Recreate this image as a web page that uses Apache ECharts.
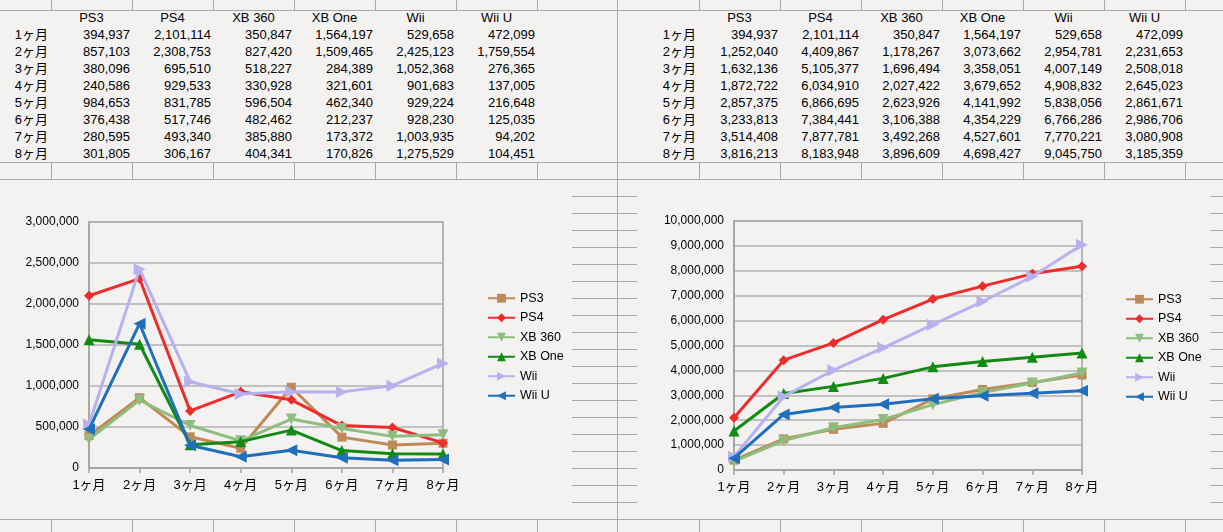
<!DOCTYPE html>
<html>
<head>
<meta charset="utf-8">
<script src="https://cdn.jsdelivr.net/npm/echarts@6/dist/echarts.min.js"></script>
<style>
  html, body { margin: 0; padding: 0; }
  body { width: 1223px; height: 532px; background: #f3f2f1; position: relative; overflow: hidden;
         font-family: 'Liberation Sans', Arial, 'Noto Sans CJK JP', sans-serif; }
  .hl, .vl { position: absolute; background: #a8a8a8; }
  .hl { height: 1px; }
  .vl { width: 1px; }
  .cell { position: absolute; height: 17px; line-height: 17px; font-size: 13px; color: #000; white-space: nowrap; }
  #chart { position: absolute; left: 0; top: 0; width: 1223px; height: 532px; }
</style>
</head>
<body>
<div id="bg"></div>
<div id="tables"></div>
<div id="chart"></div>
<script>
// ---------- data ----------
const months = ['1ヶ月', '2ヶ月', '3ヶ月', '4ヶ月', '5ヶ月', '6ヶ月', '7ヶ月', '8ヶ月'];
const platforms = ['PS3', 'PS4', 'XB 360', 'XB One', 'Wii', 'Wii U'];

// monthly sales
const ps3Monthly   = [394937, 857103, 380096, 240586, 984653, 376438, 280595, 301805];
const ps4Monthly   = [2101114, 2308753, 695510, 929533, 831785, 517746, 493340, 306167];
const xb360Monthly = [350847, 827420, 518227, 330928, 596504, 482462, 385880, 404341];
const xbOneMonthly = [1564197, 1509465, 284389, 321601, 462340, 212237, 173372, 170826];
const wiiMonthly   = [529658, 2425123, 1052368, 901683, 929224, 928230, 1003935, 1275529];
const wiiUMonthly  = [472099, 1759554, 276365, 137005, 216648, 125035, 94202, 104451];

// cumulative sales
const ps3Cum   = [394937, 1252040, 1632136, 1872722, 2857375, 3233813, 3514408, 3816213];
const ps4Cum   = [2101114, 4409867, 5105377, 6034910, 6866695, 7384441, 7877781, 8183948];
const xb360Cum = [350847, 1178267, 1696494, 2027422, 2623926, 3106388, 3492268, 3896609];
const xbOneCum = [1564197, 3073662, 3358051, 3679652, 4141992, 4354229, 4527601, 4698427];
const wiiCum   = [529658, 2954781, 4007149, 4908832, 5838056, 6766286, 7770221, 9045750];
const wiiUCum  = [472099, 2231653, 2508018, 2645023, 2861671, 2986706, 3080908, 3185359];

const leftYTicks  = [0, 500000, 1000000, 1500000, 2000000, 2500000, 3000000];
const rightYTicks = [0, 1000000, 2000000, 3000000, 4000000, 5000000, 6000000, 7000000, 8000000, 9000000, 10000000];

const monthlySets = [ps3Monthly, ps4Monthly, xb360Monthly, xbOneMonthly, wiiMonthly, wiiUMonthly];
const cumSets = [ps3Cum, ps4Cum, xb360Cum, xbOneCum, wiiCum, wiiUCum];

// ---------- spreadsheet background ----------
const bg = document.getElementById('bg');
function hl(x1, x2, y) { const d = document.createElement('div'); d.className = 'hl';
  d.style.left = x1 + 'px'; d.style.width = (x2 - x1) + 'px'; d.style.top = y + 'px'; bg.appendChild(d); }
function vl(x, y1, y2) { const d = document.createElement('div'); d.className = 'vl';
  d.style.left = x + 'px'; d.style.top = y1 + 'px'; d.style.height = (y2 - y1) + 'px'; bg.appendChild(d); }
const leftCols = [51, 132, 213, 294, 375, 456, 537];
const rightCols = [699, 780, 861, 942, 1023, 1104, 1185];
[10, 162, 179, 519].forEach(y => hl(0, 1223, y));
vl(617, 0, 532);
leftCols.concat(rightCols).forEach(x => { vl(x, 0, 10); vl(x, 162, 179); vl(x, 519, 532); });
for (let y = 196; y <= 502; y += 17) { hl(572, 637, y); hl(1210, 1223, y); }

// ---------- tables ----------
const tables = document.getElementById('tables');
function cell(text, left, width, top, align, pad) {
  const d = document.createElement('div'); d.className = 'cell';
  d.textContent = text; d.style.left = left + 'px'; d.style.width = (width - pad) + 'px';
  d.style.top = top + 'px'; d.style.textAlign = align; tables.appendChild(d);
}
const fmt = v => v.toLocaleString('en-US');
function drawTable(labelLeft, labelW, cols, sets) {
  platforms.forEach((p, j) => cell(p, cols[j], 81, 9, 'center', 0));
  months.forEach((m, i) => {
    const top = 26 + 17 * i;
    cell(m, labelLeft, labelW, top, 'right', 3);
    sets.forEach((s, j) => cell(fmt(s[i]), cols[j], 81, top, 'right', 2));
  });
}
drawTable(0, 51, [51, 132, 213, 294, 375, 456], monthlySets);
drawTable(617, 82, [699, 780, 861, 942, 1023, 1104], cumSets);

// ---------- charts ----------
const colors = ['#bd8a58', '#ee2c2c', '#8fbd7e', '#138a13', '#b7b2ee', '#1f6fbd'];
const symbols = ['rect', 'diamond', 'triangle', 'triangle', 'triangle', 'triangle'];
const rotates = [0, 0, 180, 0, -90, 90];
const sizes = [9, 10, 11, 11, 12, 12];
const font = "'Liberation Sans', Arial, 'Noto Sans CJK JP', sans-serif";

function makeSeries(sets, idx) {
  return sets.map((s, j) => ({
    name: platforms[j], type: 'line', data: s, xAxisIndex: idx, yAxisIndex: idx,
    symbol: symbols[j], symbolRotate: rotates[j], symbolSize: sizes[j], showSymbol: true,
    lineStyle: { width: 3, color: colors[j] }, itemStyle: { color: colors[j] },
    emphasis: { disabled: true }, z: 3 + j
  }));
}
function xAxis(idx) {
  return {
    type: 'category', gridIndex: idx, data: months, boundaryGap: false,
    axisLine: { lineStyle: { color: '#a3a3a3', width: 1.5 } },
    axisTick: { show: true, alignWithLabel: true, length: 5, lineStyle: { color: '#a3a3a3', width: 1.5 } },
    axisLabel: { color: '#000', fontSize: 13, fontFamily: font, margin: 11 },
    splitLine: { show: false }
  };
}
function yAxis(idx, ticks) {
  return {
    type: 'value', gridIndex: idx, min: ticks[0], max: ticks[ticks.length - 1], interval: ticks[1] - ticks[0],
    axisLine: { show: true, lineStyle: { color: '#a3a3a3', width: 1.5 } },
    axisTick: { show: false },
    axisLabel: { color: '#000', fontSize: 12, fontFamily: font, margin: 10, formatter: v => fmt(v) },
    splitLine: { show: true, lineStyle: { color: '#b0b0b0', width: 1.5 } }
  };
}
function legend(left, top) {
  return {
    orient: 'vertical', left: left, top: top, padding: 0, itemWidth: 27, itemHeight: 11, itemGap: 7,
    data: platforms, textStyle: { color: '#000', fontSize: 12.5, fontFamily: font },
    selectedMode: false
  };
}

const chart = echarts.init(document.getElementById('chart'), null, { renderer: 'canvas' });
chart.setOption({
  animation: false,
  backgroundColor: 'transparent',
  grid: [
    { left: 89, top: 222, width: 354, height: 246, show: true, borderColor: '#a3a3a3', borderWidth: 1.5, backgroundColor: 'transparent' },
    { left: 734, top: 221, width: 348, height: 249, show: true, borderColor: '#a3a3a3', borderWidth: 1.5, backgroundColor: 'transparent' }
  ],
  xAxis: [xAxis(0), xAxis(1)],
  yAxis: [yAxis(0, leftYTicks), yAxis(1, rightYTicks)],
  legend: [legend(487, 292), legend(1125, 293)],
  series: makeSeries(monthlySets, 0).concat(makeSeries(cumSets, 1))
});
</script>
</body>
</html>
